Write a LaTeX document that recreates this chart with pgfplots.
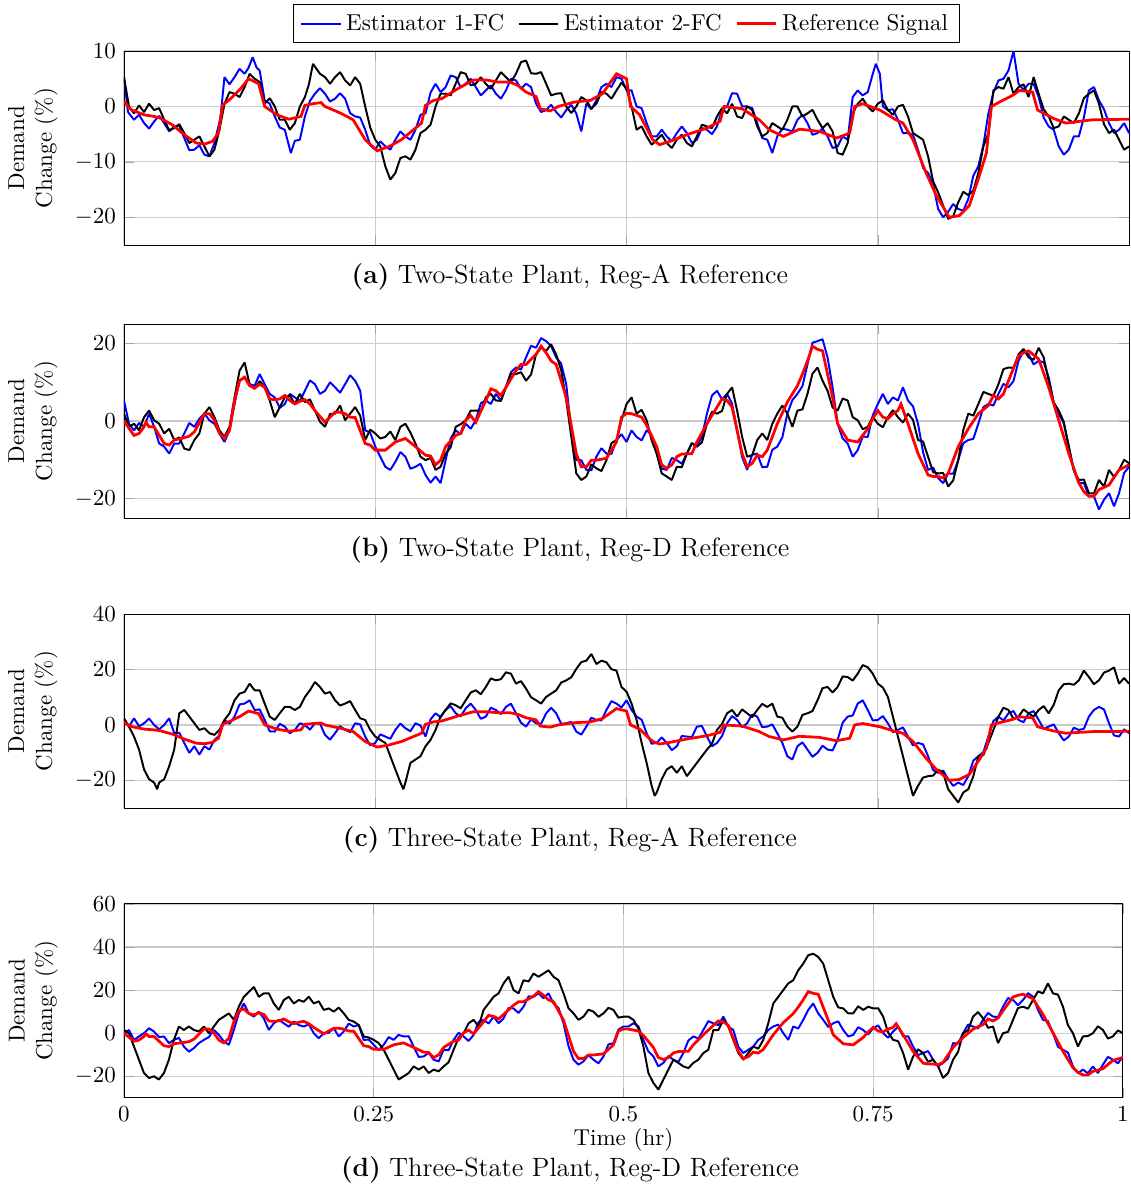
\documentclass[border=0pt]{standalone}
\usepackage{pgfplots}
\pgfplotsset{compat=1.18}
\pgfplotstableread{
x y
0 1.0
0.005 -0.2
0.008 -0.65
0.02 -1.5
0.03 -1.8
0.036 -2.1
0.048 -3.3
0.06 -5.1
0.072 -6.6
0.08 -6.8
0.088 -6.3
0.094 -4.8
0.098 0.2
0.106 1.4
0.116 3.2
0.124 5.0
0.134 4.1
0.14 0
0.152 -1.5
0.164 -2.3
0.176 -1.8
0.18 0.2
0.188 0.5
0.196 0.7
0.2 0
0.216 -1.25
0.228 -2.4
0.24 -6.0
0.252 -8.0
0.264 -7.2
0.276 -6.0
0.288 -4.2
0.296 -3.0
0.3 0.2
0.308 1.1
0.316 1.4
0.332 3.2
0.348 4.8
0.36 4.8
0.372 4.4
0.384 4.4
0.392 3.8
0.4 2.6
0.41 1.8
0.414 -0.4
0.424 -0.8
0.432 0
0.448 0.8
0.464 1.1
0.476 2.3
0.49 5.9
0.5 5.0
0.504 0
0.513 -1.5
0.526 -6.0
0.533 -6.9
0.543 -6.3
0.56 -5.1
0.58 -3.9
0.593 -2.7
0.597 0
0.615 -0.4
0.632 -2.4
0.642 -4.2
0.656 -5.4
0.672 -4.1
0.692 -4.5
0.709 -5.7
0.722 -4.8
0.727 0
0.735 0.5
0.752 -0.65
0.768 -2.4
0.775 -3.0
0.785 -6.0
0.798 -12
0.808 -16
0.821 -20
0.831 -19.7
0.841 -17.9
0.851 -12.5
0.858 -8.4
0.863 0
0.871 0.8
0.884 2.0
0.891 2.9
0.904 2.6
0.909 -0.65
0.924 -2.1
0.937 -3.0
0.95 -2.7
0.964 -2.4
1.0 -2.3
}\refA
\pgfplotstableread{
x y
0 0
0.01 -3.7
0.015 -3.2
0.02 -1.5
0.022 -0.3
0.025 -1.5
0.03 -1.5
0.04 -5.8
0.045 -6.2
0.05 -4.9
0.06 -4.3
0.065 -3.9
0.07 -2.8
0.08 1.9
0.085 1.9
0.09 0.2
0.095 -3.2
0.1 -4.5
0.105 -2.4
0.11 5.3
0.115 10.4
0.12 11.3
0.125 9.1
0.13 8.5
0.135 9.5
0.14 8.7
0.145 5.7
0.15 5.5
0.155 5.7
0.16 6.6
0.165 5.3
0.17 4.4
0.175 5.1
0.18 5.5
0.185 4.4
0.19 2.7
0.2 -0.3
0.21 2.3
0.215 2.3
0.22 1.9
0.225 1.0
0.23 0.9
0.24 -5.8
0.245 -6.2
0.25 -7.5
0.26 -7.5
0.27 -5.4
0.28 -4.5
0.29 -6.6
0.3 -8.8
0.305 -9.0
0.31 -11.3
0.315 -10.1
0.32 -6.6
0.33 -3.7
0.335 -3.2
0.34 0.2
0.345 1.4
0.35 -0.3
0.36 5.3
0.365 8.3
0.37 7.8
0.375 6.6
0.38 8.7
0.39 13.0
0.395 14.6
0.4 14.6
0.41 17.2
0.415 19.3
0.42 17.6
0.425 15.5
0.43 14.6
0.44 6.1
0.45 -8.4
0.455 -11.8
0.46 -11.8
0.465 -10.1
0.47 -10.1
0.48 -9.6
0.49 -5.4
0.495 1.0
0.5 2.0
0.505 1.9
0.515 1.0
0.52 -1.1
0.53 -6.6
0.535 -11.3
0.54 -12.2
0.545 -11.3
0.55 -9.2
0.555 -8.5
0.565 -8.4
0.57 -5.4
0.58 -0.7
0.59 3.6
0.595 5.7
0.6 5.3
0.605 3.6
0.61 -2.4
0.615 -8.4
0.62 -11.8
0.625 -10.9
0.63 -8.8
0.635 -9.2
0.64 -7.5
0.65 -0.7
0.66 4.9
0.67 9.1
0.675 12.1
0.68 15.5
0.685 19.3
0.69 18.5
0.695 18.1
0.7 12.1
0.705 6.1
0.71 -0.7
0.72 -4.9
0.73 -5.4
0.74 -2.0
0.745 0.6
0.75 2.7
0.755 1.0
0.76 0.6
0.765 1.9
0.77 2.7
0.773 4.4
0.78 -0.7
0.79 -8.4
0.8 -13.9
0.805 -14.3
0.81 -14.3
0.815 -14.7
0.82 -13.5
0.83 -6.6
0.84 -2.0
0.85 1.9
0.86 4.0
0.865 6.6
0.87 5.7
0.875 7.0
0.88 10.4
0.89 16.8
0.895 17.6
0.9 18.1
0.91 16.0
0.92 8.7
0.93 0.2
0.94 -8.4
0.95 -16.0
0.955 -18.2
0.96 -19.4
0.965 -19.4
0.97 -17.7
0.98 -16.5
0.99 -12.6
1.0 -11.3
}\refD
\pgfplotsset{
  panel/.style={
    scale only axis, width=437pt, height=84.3pt,
    xmin=0, xmax=1, xtick={0,0.25,0.5,0.75,1},
    grid=major, grid style={gray!40, line width=0.5pt},
    major tick style={gray!70},
    ylabel={Demand\\Change (\%)},
    ylabel style={align=center, at={(axis description cs:-0.058,0.5)}, anchor=south},
    anchor=north west,
  },
  est1/.style={draw=blue, line width=0.85pt, mark=none, line join=bevel},
  est2/.style={draw=black, line width=0.85pt, mark=none, line join=bevel},
  refsig/.style={draw=red, line width=1.2pt, mark=none},
}
\begin{document}
\begin{tikzpicture}
\useasboundingbox (0pt,0pt) rectangle (491.3pt,-515.2pt);
% ---------- (a)
\begin{axis}[panel, at={(53.9pt,-22.2pt)}, ymin=-25, ymax=10, ytick={-20,-10,0,10},
  xticklabels={},
  legend columns=3, legend cell align=left,
  legend style={at={(0.5,1.04)}, anchor=south, draw=black, fill=white,
    /tikz/every even column/.append style={column sep=4pt}},
  legend entries={Estimator 1-FC, Estimator 2-FC, Reference Signal}]
\addplot[est1] coordinates {(0,5.3)(0.004,-1.0)(0.01,-2.4)(0.015,-1.5)(0.02,-3.0)(0.025,-4.0)(0.03,-2.7)(0.035,-1.7)(0.04,-3.0)(0.045,-4.5)(0.05,-3.6)(0.055,-3.5)(0.06,-5.7)(0.065,-7.9)(0.07,-7.8)(0.075,-7.0)(0.08,-8.7)(0.085,-9.0)(0.09,-6.6)(0.096,-2.0)(0.1,5.3)(0.105,4.0)(0.11,5.3)(0.115,6.8)(0.12,5.9)(0.124,7.0)(0.128,8.9)(0.132,7.0)(0.135,6.5)(0.14,1.1)(0.145,0.5)(0.15,-1.8)(0.155,-3.8)(0.16,-4.2)(0.166,-8.4)(0.17,-6.2)(0.175,-6.0)(0.18,-1.8)(0.185,1.0)(0.19,2.3)(0.195,3.3)(0.2,2.3)(0.205,0.9)(0.21,1.4)(0.215,2.4)(0.22,1.4)(0.225,-1.2)(0.23,-1.8)(0.235,-2.0)(0.24,-4.2)(0.245,-7.0)(0.25,-7.8)(0.255,-6.3)(0.26,-7.2)(0.265,-7.8)(0.27,-6.0)(0.275,-4.5)(0.28,-5.4)(0.285,-6.0)(0.29,-4.2)(0.295,-1.5)(0.3,-1.25)(0.305,2.5)(0.31,4.1)(0.315,2.6)(0.32,3.5)(0.325,5.6)(0.33,5.3)(0.335,3.5)(0.34,4.1)(0.345,5.0)(0.35,3.5)(0.355,2.0)(0.36,2.9)(0.365,3.8)(0.37,2.3)(0.375,1.4)(0.38,2.9)(0.385,5.0)(0.39,4.7)(0.395,3.2)(0.4,4.1)(0.405,3.5)(0.41,0.5)(0.415,-1.0)(0.42,-0.65)(0.425,0.3)(0.43,-1.0)(0.435,-2.0)(0.44,-0.65)(0.445,0.3)(0.45,-1.25)(0.455,-4.5)(0.46,0.5)(0.465,-0.5)(0.47,1.1)(0.475,3.5)(0.48,4.1)(0.485,3.5)(0.49,5.3)(0.495,5.0)(0.5,2.9)(0.505,2.9)(0.51,0)(0.515,-0.3)(0.52,-3.0)(0.525,-5.4)(0.53,-5.4)(0.535,-4.2)(0.54,-5.4)(0.545,-6.3)(0.55,-4.8)(0.555,-3.6)(0.56,-4.8)(0.565,-6.6)(0.57,-6.0)(0.575,-3.9)(0.58,-4.2)(0.585,-5.0)(0.59,-3.6)(0.595,-0.6)(0.6,0)(0.605,2.4)(0.61,2.3)(0.615,0.0)(0.62,0)(0.625,-0.3)(0.63,-3.0)(0.635,-5.7)(0.64,-6.0)(0.645,-8.4)(0.65,-5.4)(0.655,-4.0)(0.66,-4.2)(0.665,-4.5)(0.67,-2.4)(0.675,-1.5)(0.68,-3.0)(0.685,-5.1)(0.69,-4.8)(0.695,-4.0)(0.7,-5.4)(0.705,-7.5)(0.71,-7.2)(0.715,-5.4)(0.72,-6.0)(0.725,1.7)(0.73,2.9)(0.735,2.0)(0.74,2.6)(0.745,5.9)(0.748,7.7)(0.752,5.9)(0.755,0)(0.76,-0.65)(0.765,-0.5)(0.77,-2.4)(0.775,-4.8)(0.78,-4.8)(0.785,-5.1)(0.79,-7.8)(0.795,-11.1)(0.8,-12)(0.805,-14.0)(0.81,-18.5)(0.815,-20.0)(0.82,-19)(0.825,-17.6)(0.83,-18.5)(0.835,-18.8)(0.84,-16.7)(0.845,-12.5)(0.85,-10.8)(0.855,-7.0)(0.86,-1.25)(0.865,2.5)(0.87,4.7)(0.875,5.0)(0.88,6.5)(0.885,10)(0.89,4.1)(0.895,3.0)(0.9,4.1)(0.905,4.1)(0.91,1.7)(0.915,-2.0)(0.92,-3.6)(0.925,-4.2)(0.93,-7.2)(0.935,-8.7)(0.94,-7.8)(0.945,-5.4)(0.95,-5.4)(0.955,-2.0)(0.96,2.9)(0.965,3.5)(0.97,1.1)(0.975,-0.5)(0.98,-3.0)(0.985,-4.8)(0.99,-4.2)(0.995,-3.0)(1.0,-4.8)};
\addplot[est2] coordinates {(0,5.3)(0.005,0)(0.01,-1.25)(0.015,0.2)(0.02,-1)(0.025,0.5)(0.03,-0.65)(0.035,-0.3)(0.04,-2.4)(0.045,-4.3)(0.05,-3.9)(0.055,-3.2)(0.06,-4.8)(0.065,-6.6)(0.07,-6)(0.075,-5.4)(0.08,-7.2)(0.085,-9)(0.09,-7.8)(0.095,-4.2)(0.1,0.5)(0.105,2.6)(0.11,2.3)(0.115,1.7)(0.12,3.5)(0.125,5.9)(0.13,5.0)(0.135,4.4)(0.14,0.5)(0.145,1.5)(0.15,0)(0.155,-2.4)(0.16,-2.4)(0.165,-4.2)(0.17,-3)(0.175,0)(0.18,1.7)(0.184,4.0)(0.188,7.7)(0.195,5.9)(0.2,5.3)(0.205,4.1)(0.21,5.3)(0.215,6.2)(0.22,4.7)(0.225,3.8)(0.23,5.3)(0.235,4.1)(0.24,0)(0.245,-3.8)(0.25,-6)(0.255,-7.2)(0.26,-10.8)(0.265,-13.2)(0.27,-12)(0.275,-9.3)(0.28,-9)(0.285,-9.6)(0.29,-7.8)(0.295,-4.8)(0.3,-4.2)(0.305,-3.3)(0.31,0)(0.315,2.3)(0.32,2.3)(0.325,2.0)(0.33,4.1)(0.335,6.2)(0.34,5.9)(0.345,3.8)(0.35,4.1)(0.355,5.3)(0.36,4.1)(0.365,3.2)(0.37,4.7)(0.375,6.2)(0.38,5.3)(0.385,4.4)(0.39,5.9)(0.395,8.0)(0.4,8.3)(0.405,6.0)(0.41,5.9)(0.415,6.2)(0.42,4.1)(0.425,2.0)(0.43,2.3)(0.435,2.4)(0.44,0)(0.445,-1.2)(0.45,0)(0.455,1.7)(0.46,1.1)(0.465,-0.4)(0.47,0.5)(0.475,2.6)(0.48,2.3)(0.485,1.4)(0.49,2.9)(0.495,4.3)(0.5,3.2)(0.505,0)(0.51,-4.2)(0.515,-3.6)(0.52,-5.4)(0.525,-6.9)(0.53,-6)(0.535,-5.1)(0.54,-6.6)(0.545,-7.5)(0.55,-6)(0.555,-5.1)(0.56,-6.6)(0.565,-7.2)(0.57,-5.4)(0.575,-3.3)(0.58,-3.6)(0.585,-3.9)(0.59,-1.8)(0.595,-0.3)(0.6,-1.25)(0.605,0.5)(0.61,-1.8)(0.615,-2.1)(0.62,0)(0.625,-0.6)(0.63,-3.6)(0.635,-5.4)(0.64,-4.8)(0.645,-3.0)(0.65,-3.6)(0.655,-4.2)(0.66,-2.4)(0.665,0.0)(0.67,0)(0.675,-1.8)(0.68,-1.25)(0.685,-0.6)(0.69,-2.4)(0.695,-3.9)(0.7,-3)(0.705,-4.5)(0.71,-8.4)(0.715,-8.7)(0.72,-6.6)(0.725,-1.25)(0.73,0.5)(0.735,1.4)(0.74,0)(0.745,-0.9)(0.75,0.5)(0.755,1.1)(0.76,-0.65)(0.765,-1.5)(0.77,0)(0.775,0.3)(0.78,-1.8)(0.785,-4.8)(0.79,-5.4)(0.795,-6.0)(0.8,-9)(0.805,-13.5)(0.81,-15.5)(0.815,-17.9)(0.82,-20.3)(0.825,-19.8)(0.83,-17.3)(0.835,-15.4)(0.84,-16)(0.845,-15.2)(0.85,-12)(0.855,-7.2)(0.86,-4.8)(0.865,2.9)(0.87,3.5)(0.875,3.2)(0.88,5.3)(0.885,2.3)(0.89,3.5)(0.895,4.0)(0.9,1.7)(0.905,5.3)(0.91,2.3)(0.915,-0.5)(0.92,-1.8)(0.925,-3.9)(0.93,-3.6)(0.935,-1.8)(0.94,-2.4)(0.945,-3.0)(0.95,-1.25)(0.955,1.5)(0.96,2.3)(0.965,2.9)(0.97,0.5)(0.975,-3.2)(0.98,-4.8)(0.985,-4.2)(0.99,-6)(0.995,-7.8)(1,-7.2)};
\addplot[refsig] table[x=x,y=y] {\refA};
\end{axis}
% ---------- (b)
\begin{axis}[panel, at={(53.9pt,-140.9pt)}, ymin=-25, ymax=25, ytick={-20,0,20}, xticklabels={}]
\addplot[est1] coordinates {(0,5.3)(0.005,-0.7)(0.01,-2.4)(0.015,-0.5)(0.02,-1.5)(0.025,1.9)(0.03,-1.5)(0.035,-5.8)(0.04,-6.6)(0.045,-8.4)(0.05,-5.8)(0.055,-5.8)(0.06,-3.2)(0.065,-0.5)(0.07,-1.5)(0.075,0.6)(0.08,1.9)(0.085,0.2)(0.09,-0.7)(0.095,-3.2)(0.1,-5.4)(0.105,-2.4)(0.11,4.4)(0.115,10.4)(0.12,11.3)(0.125,9.5)(0.13,9.1)(0.135,12.1)(0.14,9.5)(0.145,7)(0.15,6.1)(0.155,3.4)(0.16,4.4)(0.165,7.0)(0.17,6.1)(0.175,5.2)(0.18,7.8)(0.185,10.5)(0.19,9.5)(0.195,7.0)(0.2,7.8)(0.205,10.0)(0.21,8.7)(0.215,7.3)(0.22,9.5)(0.225,11.8)(0.23,10.4)(0.235,7.8)(0.24,-2.4)(0.245,-3.0)(0.25,-6.6)(0.255,-9.2)(0.26,-11.8)(0.265,-12.6)(0.27,-10.5)(0.275,-8.0)(0.28,-9.2)(0.285,-12.3)(0.29,-11.8)(0.295,-11.0)(0.3,-13.9)(0.305,-15.9)(0.31,-14.3)(0.315,-16)(0.32,-10.1)(0.325,-4.5)(0.33,-2.4)(0.335,-3.4)(0.34,-0.7)(0.345,-2)(0.35,0.2)(0.355,4.6)(0.36,5.3)(0.365,4.4)(0.37,7)(0.375,5.3)(0.38,8.7)(0.385,12.6)(0.39,13.8)(0.395,13.3)(0.4,16.4)(0.405,19.4)(0.41,18.9)(0.415,21.4)(0.42,20.6)(0.425,19.3)(0.43,16.4)(0.435,14.8)(0.44,9.5)(0.445,-2.4)(0.45,-10.1)(0.455,-10.1)(0.46,-12.6)(0.465,-12.7)(0.47,-9.2)(0.475,-7.0)(0.48,-8.4)(0.485,-8.5)(0.49,-4.9)(0.495,-3.4)(0.5,-5.4)(0.505,-2.4)(0.51,-4.1)(0.515,-5.0)(0.52,-2.4)(0.525,-3.6)(0.53,-8.4)(0.535,-12.3)(0.54,-12.6)(0.545,-9.5)(0.55,-10.1)(0.555,-11.0)(0.56,-8.4)(0.565,-5.7)(0.57,-6.6)(0.575,-4.0)(0.58,1.9)(0.585,6.6)(0.59,7.8)(0.595,5.6)(0.6,7)(0.605,4.5)(0.61,-2.4)(0.615,-9.3)(0.62,-12.6)(0.625,-8.7)(0.63,-8.4)(0.635,-11.9)(0.64,-11.8)(0.645,-7.4)(0.65,-6.6)(0.655,-4.2)(0.66,1.9)(0.665,5.4)(0.67,7)(0.675,9.0)(0.68,14.6)(0.685,20.2)(0.69,20.6)(0.695,21.1)(0.7,16.4)(0.705,8.7)(0.71,-0.7)(0.715,-4.5)(0.72,-5.8)(0.725,-9.2)(0.73,-7.5)(0.735,-4.0)(0.74,-4.1)(0.745,1.5)(0.75,4.4)(0.755,7)(0.76,4.4)(0.765,6.1)(0.77,5.3)(0.775,8.7)(0.78,5.3)(0.785,3.8)(0.79,-0.7)(0.795,-8.0)(0.8,-12.6)(0.805,-12.0)(0.81,-14.7)(0.815,-16)(0.82,-13.5)(0.825,-13.6)(0.83,-10.1)(0.835,-5.7)(0.84,-4.9)(0.845,-4.6)(0.85,-0.7)(0.855,3.6)(0.86,4.4)(0.865,4.0)(0.87,7)(0.875,9.6)(0.88,8.7)(0.885,10.3)(0.89,15.5)(0.895,18.1)(0.9,17.2)(0.905,14.6)(0.91,15.5)(0.915,15.2)(0.92,11.3)(0.925,4.8)(0.93,1.9)(0.935,-0.6)(0.94,-6.6)(0.945,-12.8)(0.95,-16)(0.955,-16.0)(0.96,-19.4)(0.965,-19.4)(0.97,-22.8)(0.975,-20.3)(0.98,-18.6)(0.985,-22)(0.99,-18.6)(0.995,-13.4)(1,-11.8)};
\addplot[est2] coordinates {(0,1.9)(0.005,-1.5)(0.01,-0.7)(0.015,-2.4)(0.02,1.0)(0.025,2.7)(0.03,0.2)(0.035,-0.7)(0.04,-3.2)(0.045,-2.0)(0.05,-4.9)(0.055,-4.2)(0.06,-7.1)(0.065,-7.5)(0.07,-4.9)(0.075,-3.2)(0.08,1.9)(0.085,3.6)(0.09,1.0)(0.095,-2.4)(0.1,-4.1)(0.105,-1.5)(0.11,6.1)(0.115,13.0)(0.12,15.1)(0.125,9.5)(0.13,8.3)(0.135,10.3)(0.14,8.7)(0.145,5.3)(0.15,1.0)(0.155,3.6)(0.16,6.1)(0.165,6.6)(0.17,4.4)(0.175,7.0)(0.18,4.9)(0.185,5.6)(0.19,2.7)(0.195,-0.2)(0.2,-1.5)(0.205,1.8)(0.21,1.9)(0.215,4.0)(0.22,0.2)(0.225,1.9)(0.23,3.6)(0.235,1.4)(0.24,-4.9)(0.245,-2.2)(0.25,-3.2)(0.255,-4.5)(0.26,-4.1)(0.265,-2.7)(0.27,-4.9)(0.275,-1.5)(0.28,-0.7)(0.285,-3.0)(0.29,-5.8)(0.295,-9.2)(0.3,-10.1)(0.305,-9.5)(0.31,-12.6)(0.315,-11.8)(0.32,-8.4)(0.325,-6.8)(0.33,-1.5)(0.335,-0.8)(0.34,0.2)(0.345,2.7)(0.35,2.7)(0.355,2.6)(0.36,6.1)(0.365,7.0)(0.37,5.3)(0.375,5.2)(0.38,8.7)(0.385,12.2)(0.39,12.1)(0.395,12.6)(0.4,10.4)(0.405,12.0)(0.41,17.2)(0.415,18.9)(0.42,18.1)(0.425,19.8)(0.43,17.2)(0.435,13.1)(0.44,5.3)(0.445,-4.0)(0.45,-13.5)(0.455,-15.2)(0.46,-14.3)(0.465,-11.2)(0.47,-12.2)(0.475,-12.9)(0.48,-10.1)(0.485,-5.7)(0.49,-4.9)(0.495,0.2)(0.5,4.4)(0.505,6.1)(0.51,1.9)(0.515,2.9)(0.52,0.2)(0.525,-5.0)(0.53,-8.4)(0.535,-13.5)(0.54,-14.3)(0.545,-15.2)(0.55,-11.8)(0.555,-11.9)(0.56,-8.4)(0.565,-5.7)(0.57,-6.6)(0.575,-5.5)(0.58,-0.7)(0.585,2.4)(0.59,1.9)(0.595,2.6)(0.6,7.0)(0.605,8.7)(0.61,2.7)(0.615,-4.1)(0.62,-9.2)(0.625,-8.8)(0.63,-4.9)(0.635,-3.2)(0.64,-4.9)(0.645,-0.7)(0.65,1.9)(0.655,4.0)(0.66,1.9)(0.665,-1.5)(0.67,2.7)(0.675,3.0)(0.68,7.0)(0.685,12.2)(0.69,13.8)(0.695,10.4)(0.7,7.8)(0.705,3.5)(0.71,2.7)(0.715,5.8)(0.72,5.3)(0.725,1.0)(0.73,0.2)(0.735,-2.1)(0.74,-1.5)(0.745,1.1)(0.75,-0.7)(0.755,-1.6)(0.76,1.0)(0.765,2.8)(0.77,1.0)(0.775,-0.4)(0.78,1.9)(0.785,0.3)(0.79,-4.9)(0.795,-5.3)(0.8,-9.2)(0.805,-13.2)(0.81,-13.5)(0.815,-13.4)(0.82,-16.9)(0.825,-15.3)(0.83,-10.1)(0.835,-2.3)(0.84,1.9)(0.845,1.4)(0.85,4.4)(0.855,7.5)(0.86,7.0)(0.865,6.5)(0.87,9.5)(0.875,13.4)(0.88,13.8)(0.885,13.7)(0.89,17.2)(0.895,18.6)(0.9,16.4)(0.905,15.8)(0.91,18.9)(0.915,16.4)(0.92,10.4)(0.925,4.8)(0.93,2.7)(0.935,-0.2)(0.94,-6.6)(0.945,-12.7)(0.95,-15.2)(0.955,-15.1)(0.96,-18.6)(0.965,-18.7)(0.97,-15.2)(0.975,-16.9)(0.98,-12.6)(0.985,-14.4)(0.99,-12.6)(0.995,-10.0)(1,-10.9)};
\addplot[refsig] table[x=x,y=y] {\refD};
\end{axis}
% ---------- (c)
\begin{axis}[panel, at={(53.9pt,-267pt)}, ymin=-30, ymax=40, ytick={-20,0,20,40}, xticklabels={}]
\addplot[est1] coordinates {(0,1.8)(0.005,-0.6)(0.01,2.4)(0.015,-0.5)(0.02,0.6)(0.025,2.3)(0.03,0)(0.035,-1.6)(0.04,0)(0.045,2.4)(0.05,-3)(0.055,-2.8)(0.06,-6.5)(0.065,-10.1)(0.07,-7.7)(0.075,-10.7)(0.08,-7.7)(0.085,-8.9)(0.09,-5.4)(0.095,-3.8)(0.1,1.8)(0.105,0.4)(0.11,3.0)(0.115,7.4)(0.12,7.7)(0.125,8.9)(0.13,5.4)(0.135,5.6)(0.14,1.8)(0.145,-2.3)(0.15,-2.4)(0.155,0.4)(0.16,-0.6)(0.165,-3)(0.17,-1.8)(0.175,0.6)(0.18,0)(0.185,-1.7)(0.19,0.6)(0.195,0.5)(0.2,-3.6)(0.205,-5.3)(0.21,-3)(0.215,-0.4)(0.22,-1.8)(0.225,-2.6)(0.23,0.6)(0.235,0.2)(0.24,-4.2)(0.245,-7.4)(0.25,-6.5)(0.255,-3.4)(0.26,-4.2)(0.265,-5.0)(0.27,-1.8)(0.275,0.5)(0.28,-1.2)(0.285,-2.3)(0.29,0.6)(0.295,-0.2)(0.3,-4.2)(0.305,2.0)(0.31,4.2)(0.315,2.8)(0.32,5.4)(0.325,6.8)(0.33,4.2)(0.335,3.1)(0.34,6)(0.345,7.7)(0.35,5.4)(0.355,2.2)(0.36,3.0)(0.365,6.2)(0.37,5.4)(0.375,3.9)(0.38,6.5)(0.385,7.7)(0.39,4.2)(0.395,0.8)(0.4,-0.6)(0.405,2.0)(0.41,0.6)(0.415,0.4)(0.42,4.2)(0.425,6.2)(0.43,4.2)(0.435,0.4)(0.44,0.6)(0.445,1.1)(0.45,-2.4)(0.455,-3.5)(0.46,-0.6)(0.465,2.6)(0.47,1.8)(0.475,1.6)(0.48,5.4)(0.485,8.6)(0.49,7.7)(0.495,6.3)(0.5,8.9)(0.505,5.4)(0.51,3.0)(0.515,1.9)(0.52,-3)(0.525,-6.8)(0.53,-6.5)(0.535,-4.5)(0.54,-6.5)(0.545,-9.1)(0.55,-7.7)(0.555,-4.0)(0.56,-4.2)(0.565,-4.4)(0.57,-0.6)(0.575,-0.4)(0.58,-4.2)(0.585,-7.7)(0.59,-6.5)(0.595,-4.0)(0.6,0.6)(0.605,3.2)(0.61,1.8)(0.615,-0.8)(0.62,0.6)(0.625,3.8)(0.63,3.0)(0.635,-0.8)(0.64,-0.6)(0.645,0.2)(0.65,-3)(0.655,-6.5)(0.66,-11.3)(0.665,-12.5)(0.67,-7.7)(0.675,-6.3)(0.68,-8.9)(0.685,-11.5)(0.69,-10.1)(0.695,-7.5)(0.7,-8.9)(0.705,-9.2)(0.71,-5.4)(0.715,0.8)(0.72,3.0)(0.725,3.4)(0.73,7.7)(0.735,8.9)(0.74,5.4)(0.745,1.6)(0.75,1.8)(0.755,3.2)(0.76,0.6)(0.765,-2.6)(0.77,-1.8)(0.775,-0.9)(0.78,-4.2)(0.785,-7.4)(0.79,-6.5)(0.795,-7.0)(0.8,-11.3)(0.805,-16.3)(0.81,-17.3)(0.815,-16.5)(0.82,-19.6)(0.825,-22)(0.83,-20.8)(0.835,-21.7)(0.84,-18.5)(0.845,-12.9)(0.85,-11.3)(0.855,-9.8)(0.86,-4.2)(0.865,1.4)(0.87,3.0)(0.875,1.6)(0.88,4.2)(0.885,5.0)(0.89,1.8)(0.895,1.0)(0.9,4.2)(0.905,5.0)(0.91,1.8)(0.915,-1.4)(0.92,-0.6)(0.925,0.2)(0.93,-3)(0.935,-5.6)(0.94,-4.2)(0.945,-1.0)(0.95,-1.8)(0.955,-1.4)(0.96,3.0)(0.965,5.4)(0.97,6.5)(0.975,5.6)(0.98,0.6)(0.985,-3.8)(0.99,-4.2)(0.995,-1.6)(1,-3)};
\addplot[est2] coordinates {(0,2.4)(0.005,-0.6)(0.01,-4.2)(0.015,-8.9)(0.02,-16.1)(0.025,-19.6)(0.03,-20.8)(0.033,-23.2)(0.035,-20.8)(0.04,-19.6)(0.045,-14.9)(0.05,-8.9)(0.055,4.2)(0.06,5.4)(0.065,3.0)(0.07,0.6)(0.075,-1.8)(0.08,-1.2)(0.085,-3)(0.09,-3.6)(0.095,-1.8)(0.1,1.8)(0.105,4.2)(0.11,8.9)(0.115,11.3)(0.12,11.9)(0.125,14.9)(0.13,12.5)(0.135,12.5)(0.14,7.7)(0.145,3.0)(0.15,1.8)(0.155,4.2)(0.16,6.5)(0.165,6.5)(0.17,5.4)(0.175,6.5)(0.18,10.1)(0.185,12.5)(0.19,15.5)(0.195,13.7)(0.2,11.3)(0.205,11.9)(0.21,8.9)(0.215,7.0)(0.22,7.7)(0.225,8.6)(0.23,5.4)(0.235,2.4)(0.24,1.8)(0.245,-1.8)(0.25,-4.2)(0.255,-5.4)(0.26,-6.5)(0.265,-11.3)(0.27,-16.1)(0.275,-20.8)(0.278,-23.2)(0.28,-20.8)(0.285,-13.7)(0.29,-12.5)(0.295,-11.3)(0.3,-7.7)(0.305,-5.4)(0.31,-1.8)(0.315,3.0)(0.32,5.4)(0.325,7.8)(0.33,7.1)(0.335,6.0)(0.34,8.9)(0.345,11.7)(0.35,12.5)(0.355,11.1)(0.36,13.7)(0.365,16.8)(0.37,16.1)(0.375,16.5)(0.38,19.0)(0.385,18.5)(0.39,14.9)(0.395,15.8)(0.4,13.1)(0.405,10.0)(0.41,8.9)(0.415,7.7)(0.42,10.1)(0.425,11.3)(0.43,12.5)(0.435,15.3)(0.44,16.1)(0.445,17.2)(0.45,20.2)(0.455,22.7)(0.46,23.2)(0.465,25.6)(0.47,22)(0.475,23.2)(0.48,22.6)(0.485,20.1)(0.49,19.6)(0.495,13.7)(0.5,12)(0.505,7.7)(0.51,1.8)(0.515,-6.5)(0.52,-13.7)(0.525,-22)(0.528,-25.6)(0.53,-24.4)(0.535,-19.6)(0.54,-16.1)(0.545,-14.9)(0.55,-17.3)(0.555,-14.9)(0.56,-18.5)(0.565,-16.1)(0.57,-13.7)(0.575,-11.3)(0.58,-8.9)(0.585,-6.8)(0.59,-1.8)(0.595,0.4)(0.6,4.2)(0.605,5.4)(0.61,3.0)(0.615,5.6)(0.62,4.2)(0.625,2.8)(0.63,5.4)(0.635,7.6)(0.64,6.5)(0.645,7.7)(0.65,3.0)(0.655,2.6)(0.66,-0.6)(0.665,-2.4)(0.67,-0.6)(0.675,3.6)(0.68,4.2)(0.685,5.0)(0.69,8.9)(0.695,13.3)(0.7,13.7)(0.705,11.7)(0.71,13.7)(0.715,17.5)(0.72,17.3)(0.725,16.0)(0.73,18.5)(0.735,21.6)(0.74,20.8)(0.745,18.5)(0.75,14.9)(0.755,13.5)(0.76,10.1)(0.765,3.0)(0.77,-4.2)(0.775,-11.3)(0.78,-18.5)(0.785,-25.6)(0.79,-22)(0.795,-19.0)(0.8,-18.5)(0.805,-18.3)(0.81,-16.1)(0.815,-17.3)(0.82,-23.2)(0.825,-25.6)(0.83,-28)(0.835,-24.4)(0.84,-23.2)(0.845,-18.5)(0.85,-11.3)(0.855,-10.9)(0.86,-6.5)(0.865,-1.8)(0.87,3.0)(0.875,6.2)(0.88,5.4)(0.885,2.2)(0.89,3.0)(0.895,5.6)(0.9,4.2)(0.905,3.0)(0.91,5.4)(0.915,6.8)(0.92,4.2)(0.925,7.3)(0.93,12.5)(0.935,14.7)(0.94,14.9)(0.945,14.5)(0.95,16.1)(0.955,19.6)(0.96,17.3)(0.965,14.7)(0.97,16.1)(0.975,18.9)(0.98,19.6)(0.985,20.8)(0.99,14.9)(0.995,16.9)(1,14.9)};
\addplot[refsig] table[x=x,y=y] {\refA};
\end{axis}
% ---------- (d)
\begin{axis}[panel, width=434.3pt, at={(53.9pt,-393pt)}, ymin=-30, ymax=60, ytick={-20,0,20,40,60},
  xticklabels={0,0.25,0.5,0.75,1}, xlabel={Time (hr)}, xlabel style={yshift=4pt}]
\addplot[est1] coordinates {(0,0)(0.005,1.5)(0.01,-3.1)(0.015,-1.5)(0.02,0)(0.025,2.3)(0.03,0.8)(0.035,-1.8)(0.04,-1.5)(0.045,-4.6)(0.05,-3.1)(0.055,-2.2)(0.06,-6.2)(0.065,-8.6)(0.07,-6.9)(0.075,-4.6)(0.08,-3.1)(0.085,-1.8)(0.09,1.5)(0.095,-0.8)(0.1,-3.8)(0.105,-5.4)(0.11,1.5)(0.115,9.2)(0.12,13.8)(0.125,9.2)(0.13,7.7)(0.135,10)(0.14,6.9)(0.145,1.5)(0.15,4.6)(0.155,6.2)(0.16,4.6)(0.165,3.0)(0.17,5.4)(0.175,3.8)(0.18,3.1)(0.185,4.1)(0.19,0)(0.195,-2.3)(0.2,0)(0.205,0.2)(0.21,2.3)(0.215,-1.5)(0.22,0.8)(0.225,4.5)(0.23,3.1)(0.235,3.8)(0.24,-3.1)(0.245,-3.0)(0.25,-5.4)(0.255,-7.9)(0.26,-5.4)(0.265,-1.8)(0.27,-3.1)(0.275,-0.8)(0.28,-1.5)(0.285,-1.4)(0.29,-6.2)(0.295,-11.0)(0.3,-10.8)(0.305,-9.1)(0.31,-12.3)(0.315,-13.1)(0.32,-7.7)(0.325,-7.9)(0.33,-3.1)(0.335,0.2)(0.34,-1.5)(0.345,-3.6)(0.35,-0.8)(0.355,5.2)(0.36,6.2)(0.365,4.5)(0.37,7.7)(0.375,4.6)(0.38,6.9)(0.385,11.7)(0.39,11.5)(0.395,9.4)(0.4,12.3)(0.405,17.1)(0.41,16.9)(0.415,18.5)(0.42,16.2)(0.425,18.5)(0.43,13.8)(0.435,11.7)(0.44,4.6)(0.445,-6.0)(0.45,-12.3)(0.455,-14.6)(0.46,-13.1)(0.465,-10.2)(0.47,-12.3)(0.475,-14.0)(0.48,-10.8)(0.485,-5.2)(0.49,-4.6)(0.495,1.7)(0.5,3.1)(0.505,3.1)(0.51,4.6)(0.515,3.2)(0.52,-3.1)(0.525,-8.5)(0.53,-10.8)(0.535,-15.4)(0.54,-13.8)(0.545,-10.6)(0.55,-12.3)(0.555,-13.3)(0.56,-9.2)(0.565,-3.4)(0.57,-1.5)(0.575,-2.5)(0.58,1.5)(0.585,5.6)(0.59,4.6)(0.595,3.7)(0.6,7.7)(0.605,3.1)(0.61,1.5)(0.615,-6.3)(0.62,-9.2)(0.625,-7.7)(0.63,-6.2)(0.635,-3.1)(0.64,-1.5)(0.645,1.5)(0.65,3.1)(0.655,4.0)(0.66,0)(0.665,-3.1)(0.67,3.1)(0.675,2.2)(0.68,6.2)(0.685,10.8)(0.69,13.8)(0.695,9.2)(0.7,6.2)(0.705,2.9)(0.71,4.6)(0.715,5.5)(0.72,1.5)(0.725,-1.5)(0.73,-0.8)(0.735,2.8)(0.74,1.5)(0.745,-0.6)(0.75,2.3)(0.755,3.6)(0.76,0)(0.765,-2.1)(0.77,0.8)(0.775,3.1)(0.78,-1.5)(0.785,-1.4)(0.79,-6.2)(0.795,-10.2)(0.8,-9.2)(0.805,-8.3)(0.81,-12.3)(0.815,-15.4)(0.82,-13.8)(0.825,-11.7)(0.83,-4.6)(0.835,-4.8)(0.84,0)(0.845,4.0)(0.85,3.1)(0.855,2.2)(0.86,6.2)(0.865,9.4)(0.87,7.7)(0.875,7.5)(0.88,12.3)(0.885,16.3)(0.89,15.4)(0.895,13.0)(0.9,15.4)(0.905,18.6)(0.91,16.9)(0.915,10.8)(0.92,6.2)(0.925,5.6)(0.93,0)(0.935,-6.3)(0.94,-7.7)(0.945,-9.0)(0.95,-15.4)(0.955,-18.6)(0.96,-16.9)(0.965,-18.6)(0.97,-15.4)(0.975,-18.5)(0.98,-14.6)(0.985,-11.0)(0.99,-12.3)(0.995,-14.0)(1,-10.8)};
\addplot[est2] coordinates {(0,1.5)(0.005,0)(0.01,-6.2)(0.015,-12.3)(0.02,-18.5)(0.025,-20.8)(0.03,-20)(0.035,-21.5)(0.04,-18.5)(0.045,-12.3)(0.05,-3.1)(0.055,3.1)(0.06,1.5)(0.065,3.1)(0.07,1.5)(0.075,0.8)(0.08,3.1)(0.085,0)(0.09,3.1)(0.095,6.2)(0.1,7.7)(0.105,9.2)(0.11,6.2)(0.115,12.3)(0.12,16.9)(0.125,19.2)(0.13,21.5)(0.135,16.9)(0.14,18.5)(0.145,18.5)(0.15,13.8)(0.155,10.8)(0.16,15.4)(0.165,16.9)(0.17,13.8)(0.175,15.4)(0.18,14.6)(0.185,16.9)(0.19,13.8)(0.195,14.8)(0.2,10.8)(0.205,11.5)(0.21,10)(0.215,11.9)(0.22,9.2)(0.225,6.2)(0.23,5.4)(0.235,3.8)(0.24,-1.5)(0.245,-2.0)(0.25,-3.1)(0.255,-4.6)(0.26,-7.7)(0.265,-12.3)(0.27,-16.9)(0.275,-21.5)(0.28,-20)(0.285,-18.5)(0.29,-15.4)(0.295,-16.9)(0.3,-15.4)(0.305,-18.5)(0.31,-16.9)(0.315,-17.7)(0.32,-15.4)(0.325,-13.5)(0.33,-7.7)(0.335,-2.0)(0.34,0)(0.345,4.6)(0.35,6.2)(0.355,3.1)(0.36,10.8)(0.365,13.8)(0.37,16.9)(0.375,18.5)(0.38,23.1)(0.385,26.2)(0.39,20)(0.395,18.5)(0.4,24.6)(0.405,24.0)(0.41,27.7)(0.415,26.2)(0.42,27.7)(0.425,29.2)(0.43,26.2)(0.435,24.6)(0.44,18.5)(0.445,11.6)(0.45,9.2)(0.455,6.2)(0.46,7.7)(0.465,10.9)(0.47,10)(0.475,7.6)(0.48,9.2)(0.485,11.8)(0.49,10.8)(0.495,7.2)(0.5,7.7)(0.505,7.7)(0.51,6.2)(0.515,2.2)(0.52,-6.2)(0.525,-18.5)(0.53,-23.1)(0.535,-26.2)(0.54,-21.5)(0.545,-16.9)(0.55,-12.3)(0.555,-13.8)(0.56,-15.4)(0.565,-16.2)(0.57,-13.8)(0.575,-12.3)(0.58,-9.2)(0.585,-7.7)(0.59,1.5)(0.595,1.4)(0.6,6.2)(0.605,3.1)(0.61,-3.1)(0.615,-9.2)(0.62,-12.3)(0.625,-9.2)(0.63,-6.2)(0.635,-7.2)(0.64,-3.1)(0.645,4.6)(0.65,13.8)(0.655,16.9)(0.66,20)(0.665,23.1)(0.67,24.6)(0.675,29.2)(0.68,32.3)(0.685,36.2)(0.69,36.9)(0.695,35.4)(0.7,32.3)(0.705,24.6)(0.71,16.9)(0.715,12.0)(0.72,11.5)(0.725,9.2)(0.73,9.2)(0.735,12.5)(0.74,10.8)(0.745,12.3)(0.75,11.5)(0.755,11.6)(0.76,7.7)(0.765,0.3)(0.77,-3.1)(0.775,-3.7)(0.78,-9.2)(0.785,-16.9)(0.79,-10.8)(0.795,-7.5)(0.8,-9.2)(0.805,-13.3)(0.81,-12.3)(0.815,-15.4)(0.82,-20.8)(0.825,-18.5)(0.83,-12.3)(0.835,-8.7)(0.84,0)(0.845,1.4)(0.85,7.7)(0.855,9.8)(0.86,6.9)(0.865,2.5)(0.87,3.1)(0.875,-4.6)(0.88,0)(0.885,0.6)(0.89,6.2)(0.895,11.7)(0.9,12.3)(0.905,11.4)(0.91,15.4)(0.915,19.4)(0.92,18.5)(0.925,23.1)(0.93,18.5)(0.935,17.9)(0.94,12.3)(0.945,3.7)(0.95,0)(0.955,-6.2)(0.96,-1.5)(0.965,-1.3)(0.97,0)(0.975,3.2)(0.98,1.5)(0.985,-2.5)(0.99,-1.5)(0.995,1.3)(1,0)};
\addplot[refsig] table[x=x,y=y] {\refD};
\end{axis}
% ---------- captions
\begin{scope}[every node/.style={font=\fontsize{11.5}{14}\selectfont}]
\node at (247.8pt,-120.4pt) {\textbf{(a)} Two-State Plant, Reg-A Reference};
\node at (247.8pt,-239.1pt) {\textbf{(b)} Two-State Plant, Reg-D Reference};
\node at (247.8pt,-365.2pt) {\textbf{(c)} Three-State Plant, Reg-A Reference};
\node at (247.8pt,-508.7pt) {\textbf{(d)} Three-State Plant, Reg-D Reference};
\end{scope}
\end{tikzpicture}
\end{document}
